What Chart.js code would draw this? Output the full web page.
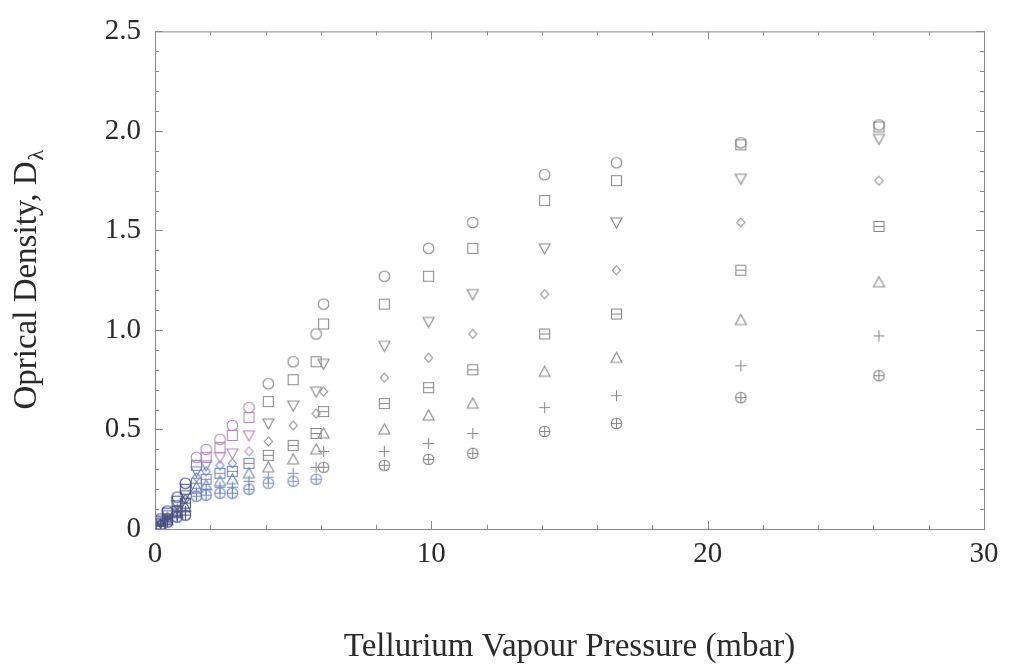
<!DOCTYPE html>
<html>
<head>
<meta charset="utf-8">
<title>Optical density vs tellurium vapour pressure</title>
<script src="https://cdn.jsdelivr.net/npm/chart.js@4.4.1/dist/chart.umd.min.js"></script>
<style>
  html, body { margin: 0; padding: 0; background: #fff; }
</style>
</head>
<body>
<canvas id="odChart" width="1009" height="667"></canvas>
<script>
// Tellurium vapour pressure (mbar) for each measurement
const pressure = [0.2, 0.45, 0.8, 1.1, 1.5, 1.85, 2.35, 2.8, 3.4, 4.1, 5.0, 5.83, 6.1, 8.3, 9.9, 11.5, 14.1, 16.7, 21.2, 26.2];

// optical density, one array per wavelength (one marker each)
const odCircle     = [0.05, 0.09, 0.16, 0.23, 0.36, 0.40, 0.45, 0.52, 0.61, 0.73, 0.84, 0.98, 1.13, 1.27, 1.41, 1.54, 1.78, 1.84, 1.94, 2.03];
const odSquare     = [0.04, 0.08, 0.14, 0.20, 0.32, 0.36, 0.41, 0.47, 0.56, 0.64, 0.75, 0.84, 1.03, 1.13, 1.27, 1.41, 1.65, 1.75, 1.93, 2.02];
const odTriDown    = [0.035, 0.07, 0.12, 0.17, 0.29, 0.32, 0.36, 0.38, 0.47, 0.53, 0.62, 0.69, 0.83, 0.92, 1.04, 1.18, 1.41, 1.54, 1.76, 1.96];
const odDiamond    = [0.03, 0.06, 0.10, 0.15, 0.26, 0.29, 0.32, 0.33, 0.39, 0.44, 0.52, 0.58, 0.69, 0.76, 0.86, 0.98, 1.18, 1.30, 1.54, 1.75];
const odBoxed      = [0.025, 0.05, 0.09, 0.13, 0.23, 0.25, 0.28, 0.29, 0.33, 0.37, 0.42, 0.48, 0.59, 0.63, 0.71, 0.80, 0.98, 1.08, 1.30, 1.52];
const odTriUp      = [0.02, 0.045, 0.08, 0.11, 0.21, 0.22, 0.24, 0.25, 0.28, 0.31, 0.35, 0.40, 0.48, 0.50, 0.57, 0.63, 0.79, 0.86, 1.05, 1.24];
const odPlus       = [0.02, 0.04, 0.07, 0.09, 0.18, 0.20, 0.21, 0.21, 0.24, 0.26, 0.28, 0.31, 0.39, 0.39, 0.43, 0.48, 0.61, 0.67, 0.82, 0.97];
const odCirclePlus = [0.015, 0.035, 0.06, 0.07, 0.165, 0.17, 0.18, 0.18, 0.20, 0.23, 0.24, 0.25, 0.31, 0.32, 0.35, 0.38, 0.49, 0.53, 0.66, 0.77];

const xTicks = [0, 10, 20, 30];
const yTicks = [0, 0.5, 1.0, 1.5, 2.0, 2.5];

const seriesList = [
  { shape: 'circle', values: odCircle },
  { shape: 'square', values: odSquare },
  { shape: 'triDown', values: odTriDown },
  { shape: 'diamond', values: odDiamond },
  { shape: 'boxed', values: odBoxed },
  { shape: 'triUp', values: odTriUp },
  { shape: 'plus', values: odPlus },
  { shape: 'circlePlus', values: odCirclePlus }
];

// small canvases used as point styles, cached per shape + colour
const markerCache = {};
function makeMarker(shape, color) {
  const key = shape + color;
  if (markerCache[key]) return markerCache[key];
  const c = document.createElement('canvas');
  c.width = c.height = 15;
  const g = c.getContext('2d');
  const m = 7.5, r = 5.3;
  g.strokeStyle = color;
  g.lineWidth = 1.1;
  g.beginPath();
  switch (shape) {
    case 'circle':
      g.arc(m, m, r, 0, Math.PI * 2);
      break;
    case 'square':
      g.rect(m - 5, m - 5, 10, 10);
      break;
    case 'triDown':
      g.moveTo(m - 5.5, m - 4.5); g.lineTo(m + 5.5, m - 4.5); g.lineTo(m, m + 5.5); g.closePath();
      break;
    case 'triUp':
      g.moveTo(m - 5.5, m + 4.5); g.lineTo(m + 5.5, m + 4.5); g.lineTo(m, m - 5.5); g.closePath();
      break;
    case 'diamond':
      g.moveTo(m, m - 4.5); g.lineTo(m + 4, m); g.lineTo(m, m + 4.5); g.lineTo(m - 4, m); g.closePath();
      break;
    case 'boxed':
      g.rect(m - 5, m - 5, 10, 10);
      g.moveTo(m - 5, m); g.lineTo(m + 5, m);
      break;
    case 'plus':
      g.moveTo(m - 5.5, m); g.lineTo(m + 5.5, m);
      g.moveTo(m, m - 5.5); g.lineTo(m, m + 5.5);
      break;
    case 'circlePlus':
      g.arc(m, m, r, 0, Math.PI * 2);
      g.moveTo(m - r, m); g.lineTo(m + r, m);
      g.moveTo(m, m - r); g.lineTo(m, m + r);
      break;
  }
  g.stroke();
  markerCache[key] = c;
  return c;
}

// low-pressure points carry a blue / purple cast, the rest are grey
function tintFor(x, y) {
  if (x < 1.3) return '#4c5282';
  if (x < 3.6) return y >= 0.34 ? '#b08cb4' : '#6f84c6';
  if (x < 6 && y < 0.3) return '#8294c8';
  return '#8a8a8a';
}

const datasets = seriesList.map(s => ({
  label: s.shape,
  data: pressure.map((p, i) => ({ x: p, y: s.values[i] })),
  pointRadius: 5,
  pointStyle: (ctx) => {
    const raw = ctx.raw;
    return makeMarker(s.shape, raw ? tintFor(raw.x, raw.y) : '#8a8a8a');
  }
}));

const serif = '"Liberation Serif", "DejaVu Serif", serif';

// frame, inward ticks and the y-axis title with its subscript
const framePlugin = {
  id: 'frame',
  afterDraw(chart) {
    const { ctx, chartArea: a, scales: { x, y } } = chart;
    ctx.save();
    ctx.strokeStyle = '#8a8a8a';
    ctx.lineWidth = 1;
    ctx.strokeRect(a.left + 0.5, a.top + 0.5, a.right - a.left, a.bottom - a.top);

    ctx.beginPath();
    for (let v = 0; v <= 30.001; v += 2) {
      const px = Math.round(x.getPixelForValue(v)) + 0.5;
      const len = v % 10 === 0 ? 8 : 4;
      ctx.moveTo(px, a.bottom); ctx.lineTo(px, a.bottom - len);
      ctx.moveTo(px, a.top); ctx.lineTo(px, a.top + len);
    }
    for (let k = 0; k <= 25; k++) {
      const py = Math.round(y.getPixelForValue(k / 10)) + 0.5;
      const len = k % 5 === 0 ? 8 : 4;
      ctx.moveTo(a.left, py); ctx.lineTo(a.left + len, py);
      ctx.moveTo(a.right, py); ctx.lineTo(a.right - len, py);
    }
    ctx.stroke();

    const main = 'Oprical Density, D';
    ctx.fillStyle = '#2a2a2a';
    ctx.font = '33px ' + serif;
    const w1 = ctx.measureText(main).width;
    ctx.font = '22px ' + serif;
    const w2 = ctx.measureText('λ').width;
    ctx.translate(27, (a.top + a.bottom) / 2);
    ctx.rotate(-Math.PI / 2);
    ctx.textBaseline = 'middle';
    ctx.textAlign = 'left';
    const start = -(w1 + w2) / 2;
    ctx.font = '33px ' + serif;
    ctx.fillText(main, start, 0);
    ctx.font = '22px ' + serif;
    ctx.fillText('λ', start + w1 + 1, 10);
    ctx.restore();
  }
};

new Chart(document.getElementById('odChart'), {
  type: 'scatter',
  data: { datasets },
  options: {
    responsive: false,
    devicePixelRatio: 1,
    animation: false,
    layout: { padding: { left: 0, top: 16, right: 25, bottom: 0 } },
    plugins: { legend: { display: false }, tooltip: { enabled: false } },
    scales: {
      x: {
        type: 'linear',
        min: 0,
        max: 30,
        afterBuildTicks: (scale) => { scale.ticks = xTicks.map(v => ({ value: v })); },
        afterFit: (scale) => { scale.height = 138; },
        grid: { display: false, drawTicks: false },
        border: { display: false },
        ticks: {
          color: '#2a2a2a',
          font: { family: serif, size: 29 },
          padding: 8,
          maxRotation: 0,
          callback: (v) => String(v)
        },
        title: {
          display: true,
          text: 'Tellurium Vapour Pressure (mbar)',
          color: '#2a2a2a',
          font: { family: serif, size: 33 },
          padding: { top: 0, bottom: 0 }
        }
      },
      y: {
        type: 'linear',
        min: 0,
        max: 2.5,
        afterBuildTicks: (scale) => { scale.ticks = yTicks.map(v => ({ value: v })); },
        afterFit: (scale) => { scale.width = 155; },
        grid: { display: false, drawTicks: false },
        border: { display: false },
        ticks: {
          color: '#2a2a2a',
          font: { family: serif, size: 29 },
          padding: 14,
          callback: (v) => (v === 0 ? '0' : v.toFixed(1))
        }
      }
    }
  },
  plugins: [framePlugin]
});
</script>
</body>
</html>
